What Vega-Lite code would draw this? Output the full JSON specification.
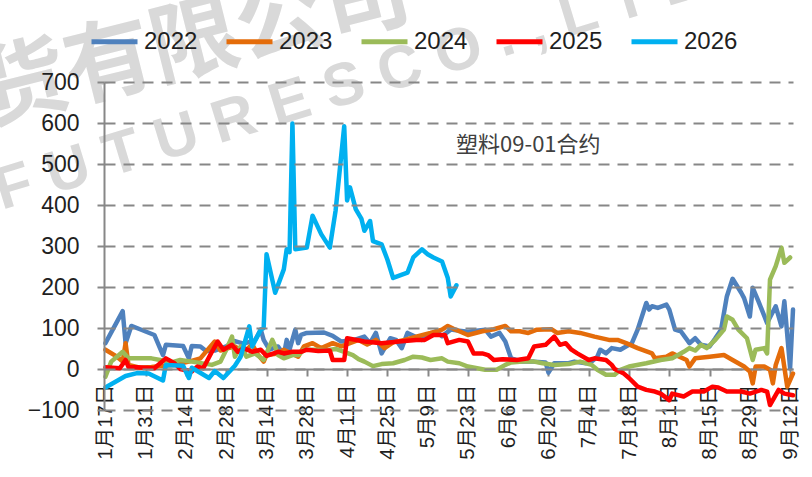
{
  "$schema": "https://vega.github.io/schema/vega-lite/v6.json",
  "width": 689,
  "height": 328,
  "autosize": {"type": "none"},
  "padding": {"left": 104, "top": 82, "right": 19, "bottom": 67},
  "background": "#ffffff",
  "config": {
    "view": {"stroke": null},
    "font": "Liberation Sans, Noto Sans CJK SC"
  },
  "encoding": {
    "x": {
      "field": "d", "type": "temporal",
      "scale": {"domain": [{"year": 2022, "month": 1, "date": 16, "hours": 12}, {"year": 2022, "month": 9, "date": 13}]},
      "axis": {
        "title": null, "orient": "bottom", "offset": -41,
        "values": [
          {"year": 2022, "month": 1, "date": 17}, {"year": 2022, "month": 1, "date": 31},
          {"year": 2022, "month": 2, "date": 14}, {"year": 2022, "month": 2, "date": 28},
          {"year": 2022, "month": 3, "date": 14}, {"year": 2022, "month": 3, "date": 28},
          {"year": 2022, "month": 4, "date": 11}, {"year": 2022, "month": 4, "date": 25},
          {"year": 2022, "month": 5, "date": 9}, {"year": 2022, "month": 5, "date": 23},
          {"year": 2022, "month": 6, "date": 6}, {"year": 2022, "month": 6, "date": 20},
          {"year": 2022, "month": 7, "date": 4}, {"year": 2022, "month": 7, "date": 18},
          {"year": 2022, "month": 8, "date": 1}, {"year": 2022, "month": 8, "date": 15},
          {"year": 2022, "month": 8, "date": 29}, {"year": 2022, "month": 9, "date": 12}
        ],
        "format": "%-m月%-d日",
        "labelAngle": 270, "labelFontSize": 20.5, "labelColor": "#1f1f1f",
        "labelPadding": 8, "labelFlush": false, "labelOverlap": false,
        "tickSize": 7, "tickWidth": 2, "tickColor": "#878787",
        "domainColor": "#878787", "domainWidth": 2, "grid": false
      }
    },
    "y": {
      "field": "v", "type": "quantitative",
      "scale": {"domain": [-100, 700], "nice": false, "zero": false},
      "axis": {
        "title": null, "zindex": 1,
        "values": [-100, 0, 100, 200, 300, 400, 500, 600, 700],
        "labelFontSize": 23, "labelColor": "#1f1f1f", "labelPadding": 18,
        "tickSize": 7, "tickWidth": 2, "tickColor": "#878787",
        "domainColor": "#878787", "domainWidth": 2,
        "grid": true, "gridColor": "#878787", "gridWidth": 2, "gridDash": [11, 8]
      }
    }
  },
  "layer": [
    {
      "data": {"values": [
        {"d": "2021/12/05", "v": 662, "t": "货有限公司"}
      ]},
      "mark": {"type": "text", "fontSize": 88, "fontWeight": "bold", "font": "Noto Sans CJK SC", "color": "#d9d9d9", "angle": 346, "align": "left", "baseline": "middle"},
      "encoding": {"text": {"field": "t"}}
    },
    {
      "data": {"values": [
        {"d": "2021/12/12", "v": 388, "t": "F U T U R E S   C O . , L T D"}
      ]},
      "mark": {"type": "text", "fontSize": 60, "fontWeight": "bold", "font": "Liberation Sans", "color": "#d9d9d9", "angle": 343, "align": "left", "baseline": "alphabetic"},
      "encoding": {"text": {"field": "t"}}
    },
    {
      "data": {"values": [
        {"s":"2022","d":"2022/01/17","v":63},{"s":"2022","d":"2022/01/23","v":141},{"s":"2022","d":"2022/01/24","v":63},{"s":"2022","d":"2022/01/26","v":105},{"s":"2022","d":"2022/01/29","v":97},{"s":"2022","d":"2022/02/03","v":83},{"s":"2022","d":"2022/02/06","v":34},{"s":"2022","d":"2022/02/07","v":59},{"s":"2022","d":"2022/02/13","v":56},{"s":"2022","d":"2022/02/15","v":26},{"s":"2022","d":"2022/02/16","v":56},{"s":"2022","d":"2022/02/19","v":55},{"s":"2022","d":"2022/02/21","v":44},{"s":"2022","d":"2022/02/24","v":45},{"s":"2022","d":"2022/02/28","v":55},{"s":"2022","d":"2022/03/03","v":68},{"s":"2022","d":"2022/03/06","v":62},{"s":"2022","d":"2022/03/10","v":70},{"s":"2022","d":"2022/03/12","v":96},{"s":"2022","d":"2022/03/13","v":71},{"s":"2022","d":"2022/03/15","v":47},{"s":"2022","d":"2022/03/18","v":55},{"s":"2022","d":"2022/03/20","v":34},{"s":"2022","d":"2022/03/21","v":71},{"s":"2022","d":"2022/03/22","v":47},{"s":"2022","d":"2022/03/24","v":96},{"s":"2022","d":"2022/03/25","v":63},{"s":"2022","d":"2022/03/26","v":83},{"s":"2022","d":"2022/03/28","v":88},{"s":"2022","d":"2022/04/03","v":89},{"s":"2022","d":"2022/04/06","v":81},{"s":"2022","d":"2022/04/09","v":67},{"s":"2022","d":"2022/04/13","v":70},{"s":"2022","d":"2022/04/17","v":79},{"s":"2022","d":"2022/04/19","v":63},{"s":"2022","d":"2022/04/21","v":88},{"s":"2022","d":"2022/04/23","v":38},{"s":"2022","d":"2022/04/26","v":75},{"s":"2022","d":"2022/04/28","v":71},{"s":"2022","d":"2022/04/30","v":51},{"s":"2022","d":"2022/05/02","v":88},{"s":"2022","d":"2022/05/07","v":71},{"s":"2022","d":"2022/05/12","v":92},{"s":"2022","d":"2022/05/14","v":80},{"s":"2022","d":"2022/05/17","v":96},{"s":"2022","d":"2022/05/23","v":91},{"s":"2022","d":"2022/05/29","v":96},{"s":"2022","d":"2022/05/31","v":79},{"s":"2022","d":"2022/06/03","v":88},{"s":"2022","d":"2022/06/05","v":67},{"s":"2022","d":"2022/06/07","v":26},{"s":"2022","d":"2022/06/11","v":18},{"s":"2022","d":"2022/06/15","v":18},{"s":"2022","d":"2022/06/19","v":16},{"s":"2022","d":"2022/06/20","v":-9},{"s":"2022","d":"2022/06/22","v":14},{"s":"2022","d":"2022/06/27","v":14},{"s":"2022","d":"2022/06/29","v":18},{"s":"2022","d":"2022/07/03","v":14},{"s":"2022","d":"2022/07/05","v":18},{"s":"2022","d":"2022/07/07","v":30},{"s":"2022","d":"2022/07/08","v":47},{"s":"2022","d":"2022/07/10","v":38},{"s":"2022","d":"2022/07/12","v":51},{"s":"2022","d":"2022/07/15","v":47},{"s":"2022","d":"2022/07/19","v":63},{"s":"2022","d":"2022/07/21","v":96},{"s":"2022","d":"2022/07/24","v":161},{"s":"2022","d":"2022/07/25","v":145},{"s":"2022","d":"2022/07/26","v":153},{"s":"2022","d":"2022/07/28","v":149},{"s":"2022","d":"2022/07/31","v":157},{"s":"2022","d":"2022/08/01","v":145},{"s":"2022","d":"2022/08/03","v":96},{"s":"2022","d":"2022/08/05","v":92},{"s":"2022","d":"2022/08/08","v":63},{"s":"2022","d":"2022/08/10","v":75},{"s":"2022","d":"2022/08/12","v":59},{"s":"2022","d":"2022/08/15","v":55},{"s":"2022","d":"2022/08/17","v":75},{"s":"2022","d":"2022/08/19","v":96},{"s":"2022","d":"2022/08/21","v":177},{"s":"2022","d":"2022/08/23","v":220},{"s":"2022","d":"2022/08/26","v":186},{"s":"2022","d":"2022/08/27","v":173},{"s":"2022","d":"2022/08/29","v":128},{"s":"2022","d":"2022/08/30","v":198},{"s":"2022","d":"2022/09/01","v":165},{"s":"2022","d":"2022/09/04","v":112},{"s":"2022","d":"2022/09/07","v":153},{"s":"2022","d":"2022/09/09","v":104},{"s":"2022","d":"2022/09/10","v":165},{"s":"2022","d":"2022/09/12","v":2},{"s":"2022","d":"2022/09/13","v":145},
        {"s":"2023","d":"2022/01/17","v":47},{"s":"2023","d":"2022/01/21","v":30},{"s":"2023","d":"2022/01/23","v":18},{"s":"2023","d":"2022/01/24","v":63},{"s":"2023","d":"2022/01/25","v":10},{"s":"2023","d":"2022/01/29","v":3},{"s":"2023","d":"2022/02/02","v":5},{"s":"2023","d":"2022/02/06","v":8},{"s":"2023","d":"2022/02/10","v":10},{"s":"2023","d":"2022/02/15","v":18},{"s":"2023","d":"2022/02/19","v":26},{"s":"2023","d":"2022/02/22","v":51},{"s":"2023","d":"2022/02/24","v":67},{"s":"2023","d":"2022/02/26","v":45},{"s":"2023","d":"2022/02/28","v":50},{"s":"2023","d":"2022/03/03","v":55},{"s":"2023","d":"2022/03/06","v":40},{"s":"2023","d":"2022/03/09","v":60},{"s":"2023","d":"2022/03/11","v":35},{"s":"2023","d":"2022/03/13","v":18},{"s":"2023","d":"2022/03/14","v":34},{"s":"2023","d":"2022/03/18","v":38},{"s":"2023","d":"2022/03/20","v":47},{"s":"2023","d":"2022/03/25","v":30},{"s":"2023","d":"2022/03/27","v":55},{"s":"2023","d":"2022/03/30","v":63},{"s":"2023","d":"2022/04/02","v":51},{"s":"2023","d":"2022/04/06","v":63},{"s":"2023","d":"2022/04/09","v":55},{"s":"2023","d":"2022/04/15","v":71},{"s":"2023","d":"2022/04/18","v":60},{"s":"2023","d":"2022/04/21","v":71},{"s":"2023","d":"2022/04/24","v":51},{"s":"2023","d":"2022/04/27","v":65},{"s":"2023","d":"2022/05/01","v":71},{"s":"2023","d":"2022/05/05","v":79},{"s":"2023","d":"2022/05/10","v":88},{"s":"2023","d":"2022/05/14","v":96},{"s":"2023","d":"2022/05/16","v":105},{"s":"2023","d":"2022/05/18","v":98},{"s":"2023","d":"2022/05/20","v":92},{"s":"2023","d":"2022/05/23","v":83},{"s":"2023","d":"2022/05/28","v":92},{"s":"2023","d":"2022/06/01","v":97},{"s":"2023","d":"2022/06/05","v":105},{"s":"2023","d":"2022/06/07","v":92},{"s":"2023","d":"2022/06/10","v":92},{"s":"2023","d":"2022/06/13","v":88},{"s":"2023","d":"2022/06/16","v":96},{"s":"2023","d":"2022/06/21","v":97},{"s":"2023","d":"2022/06/23","v":88},{"s":"2023","d":"2022/06/27","v":92},{"s":"2023","d":"2022/07/01","v":88},{"s":"2023","d":"2022/07/06","v":79},{"s":"2023","d":"2022/07/11","v":71},{"s":"2023","d":"2022/07/14","v":71},{"s":"2023","d":"2022/07/17","v":63},{"s":"2023","d":"2022/07/21","v":51},{"s":"2023","d":"2022/07/26","v":38},{"s":"2023","d":"2022/07/27","v":26},{"s":"2023","d":"2022/07/31","v":30},{"s":"2023","d":"2022/08/02","v":38},{"s":"2023","d":"2022/08/07","v":22},{"s":"2023","d":"2022/08/08","v":6},{"s":"2023","d":"2022/08/10","v":26},{"s":"2023","d":"2022/08/15","v":30},{"s":"2023","d":"2022/08/20","v":34},{"s":"2023","d":"2022/08/23","v":22},{"s":"2023","d":"2022/08/27","v":6},{"s":"2023","d":"2022/08/29","v":-6},{"s":"2023","d":"2022/08/30","v":-35},{"s":"2023","d":"2022/08/31","v":6},{"s":"2023","d":"2022/09/03","v":6},{"s":"2023","d":"2022/09/05","v":-2},{"s":"2023","d":"2022/09/06","v":-35},{"s":"2023","d":"2022/09/07","v":10},{"s":"2023","d":"2022/09/09","v":51},{"s":"2023","d":"2022/09/11","v":-43},{"s":"2023","d":"2022/09/12","v":-27},{"s":"2023","d":"2022/09/13","v":-11},
        {"s":"2024","d":"2022/01/17","v":-19},{"s":"2024","d":"2022/01/19","v":18},{"s":"2024","d":"2022/01/23","v":42},{"s":"2024","d":"2022/01/25","v":26},{"s":"2024","d":"2022/02/02","v":26},{"s":"2024","d":"2022/02/05","v":22},{"s":"2024","d":"2022/02/09","v":16},{"s":"2024","d":"2022/02/12","v":22},{"s":"2024","d":"2022/02/16","v":18},{"s":"2024","d":"2022/02/23","v":10},{"s":"2024","d":"2022/02/26","v":18},{"s":"2024","d":"2022/02/28","v":47},{"s":"2024","d":"2022/03/02","v":79},{"s":"2024","d":"2022/03/03","v":30},{"s":"2024","d":"2022/03/05","v":55},{"s":"2024","d":"2022/03/07","v":30},{"s":"2024","d":"2022/03/10","v":38},{"s":"2024","d":"2022/03/13","v":22},{"s":"2024","d":"2022/03/16","v":71},{"s":"2024","d":"2022/03/17","v":55},{"s":"2024","d":"2022/03/18","v":34},{"s":"2024","d":"2022/03/20","v":26},{"s":"2024","d":"2022/03/23","v":34},{"s":"2024","d":"2022/03/25","v":34},{"s":"2024","d":"2022/03/27","v":47},{"s":"2024","d":"2022/03/31","v":47},{"s":"2024","d":"2022/04/04","v":46},{"s":"2024","d":"2022/04/07","v":49},{"s":"2024","d":"2022/04/10","v":42},{"s":"2024","d":"2022/04/13","v":34},{"s":"2024","d":"2022/04/15","v":24},{"s":"2024","d":"2022/04/17","v":18},{"s":"2024","d":"2022/04/20","v":7},{"s":"2024","d":"2022/04/23","v":12},{"s":"2024","d":"2022/04/27","v":14},{"s":"2024","d":"2022/05/01","v":22},{"s":"2024","d":"2022/05/04","v":30},{"s":"2024","d":"2022/05/07","v":28},{"s":"2024","d":"2022/05/10","v":22},{"s":"2024","d":"2022/05/14","v":26},{"s":"2024","d":"2022/05/16","v":18},{"s":"2024","d":"2022/05/20","v":14},{"s":"2024","d":"2022/05/23","v":6},{"s":"2024","d":"2022/05/29","v":-2},{"s":"2024","d":"2022/06/02","v":-2},{"s":"2024","d":"2022/06/05","v":10},{"s":"2024","d":"2022/06/07","v":16},{"s":"2024","d":"2022/06/11","v":18},{"s":"2024","d":"2022/06/15","v":18},{"s":"2024","d":"2022/06/18","v":14},{"s":"2024","d":"2022/06/22","v":10},{"s":"2024","d":"2022/06/27","v":12},{"s":"2024","d":"2022/07/01","v":18},{"s":"2024","d":"2022/07/05","v":10},{"s":"2024","d":"2022/07/07","v":-2},{"s":"2024","d":"2022/07/10","v":-14},{"s":"2024","d":"2022/07/13","v":-14},{"s":"2024","d":"2022/07/15","v":-2},{"s":"2024","d":"2022/07/18","v":6},{"s":"2024","d":"2022/07/24","v":14},{"s":"2024","d":"2022/07/29","v":22},{"s":"2024","d":"2022/08/02","v":26},{"s":"2024","d":"2022/08/06","v":42},{"s":"2024","d":"2022/08/08","v":51},{"s":"2024","d":"2022/08/10","v":45},{"s":"2024","d":"2022/08/12","v":59},{"s":"2024","d":"2022/08/14","v":51},{"s":"2024","d":"2022/08/17","v":71},{"s":"2024","d":"2022/08/20","v":96},{"s":"2024","d":"2022/08/21","v":128},{"s":"2024","d":"2022/08/23","v":120},{"s":"2024","d":"2022/08/25","v":96},{"s":"2024","d":"2022/08/28","v":75},{"s":"2024","d":"2022/08/30","v":22},{"s":"2024","d":"2022/08/31","v":47},{"s":"2024","d":"2022/09/03","v":51},{"s":"2024","d":"2022/09/04","v":38},{"s":"2024","d":"2022/09/05","v":218},{"s":"2024","d":"2022/09/07","v":251},{"s":"2024","d":"2022/09/09","v":296},{"s":"2024","d":"2022/09/10","v":259},{"s":"2024","d":"2022/09/12","v":272},
        {"s":"2025","d":"2022/01/17","v":4},{"s":"2025","d":"2022/01/22","v":2},{"s":"2025","d":"2022/01/24","v":22},{"s":"2025","d":"2022/01/25","v":5},{"s":"2025","d":"2022/01/28","v":4},{"s":"2025","d":"2022/02/03","v":2},{"s":"2025","d":"2022/02/07","v":26},{"s":"2025","d":"2022/02/10","v":14},{"s":"2025","d":"2022/02/12","v":0},{"s":"2025","d":"2022/02/16","v":-6},{"s":"2025","d":"2022/02/18","v":6},{"s":"2025","d":"2022/02/20","v":2},{"s":"2025","d":"2022/02/23","v":42},{"s":"2025","d":"2022/02/25","v":67},{"s":"2025","d":"2022/02/27","v":47},{"s":"2025","d":"2022/03/02","v":59},{"s":"2025","d":"2022/03/04","v":42},{"s":"2025","d":"2022/03/06","v":51},{"s":"2025","d":"2022/03/09","v":42},{"s":"2025","d":"2022/03/12","v":47},{"s":"2025","d":"2022/03/14","v":32},{"s":"2025","d":"2022/03/18","v":42},{"s":"2025","d":"2022/03/20","v":38},{"s":"2025","d":"2022/03/23","v":42},{"s":"2025","d":"2022/03/26","v":42},{"s":"2025","d":"2022/03/28","v":47},{"s":"2025","d":"2022/04/01","v":44},{"s":"2025","d":"2022/04/05","v":45},{"s":"2025","d":"2022/04/06","v":22},{"s":"2025","d":"2022/04/10","v":22},{"s":"2025","d":"2022/04/11","v":75},{"s":"2025","d":"2022/04/17","v":67},{"s":"2025","d":"2022/04/23","v":63},{"s":"2025","d":"2022/04/29","v":67},{"s":"2025","d":"2022/05/05","v":71},{"s":"2025","d":"2022/05/08","v":71},{"s":"2025","d":"2022/05/11","v":83},{"s":"2025","d":"2022/05/15","v":83},{"s":"2025","d":"2022/05/16","v":63},{"s":"2025","d":"2022/05/20","v":71},{"s":"2025","d":"2022/05/23","v":67},{"s":"2025","d":"2022/05/25","v":38},{"s":"2025","d":"2022/05/28","v":38},{"s":"2025","d":"2022/05/30","v":34},{"s":"2025","d":"2022/06/01","v":22},{"s":"2025","d":"2022/06/04","v":24},{"s":"2025","d":"2022/06/09","v":22},{"s":"2025","d":"2022/06/13","v":26},{"s":"2025","d":"2022/06/15","v":55},{"s":"2025","d":"2022/06/19","v":59},{"s":"2025","d":"2022/06/22","v":79},{"s":"2025","d":"2022/06/24","v":59},{"s":"2025","d":"2022/06/26","v":63},{"s":"2025","d":"2022/06/28","v":47},{"s":"2025","d":"2022/06/30","v":38},{"s":"2025","d":"2022/07/04","v":22},{"s":"2025","d":"2022/07/06","v":26},{"s":"2025","d":"2022/07/10","v":22},{"s":"2025","d":"2022/07/12","v":10},{"s":"2025","d":"2022/07/13","v":0},{"s":"2025","d":"2022/07/16","v":-10},{"s":"2025","d":"2022/07/18","v":-22},{"s":"2025","d":"2022/07/21","v":-43},{"s":"2025","d":"2022/07/24","v":-51},{"s":"2025","d":"2022/07/27","v":-55},{"s":"2025","d":"2022/07/29","v":-60},{"s":"2025","d":"2022/08/01","v":-76},{"s":"2025","d":"2022/08/02","v":-60},{"s":"2025","d":"2022/08/06","v":-67},{"s":"2025","d":"2022/08/09","v":-55},{"s":"2025","d":"2022/08/13","v":-55},{"s":"2025","d":"2022/08/16","v":-43},{"s":"2025","d":"2022/08/18","v":-45},{"s":"2025","d":"2022/08/21","v":-55},{"s":"2025","d":"2022/08/26","v":-55},{"s":"2025","d":"2022/08/29","v":-60},{"s":"2025","d":"2022/09/02","v":-51},{"s":"2025","d":"2022/09/04","v":-55},{"s":"2025","d":"2022/09/05","v":-88},{"s":"2025","d":"2022/09/08","v":-51},{"s":"2025","d":"2022/09/10","v":-60},{"s":"2025","d":"2022/09/13","v":-64},
        {"s":"2026","d":"2022/01/17","v":-45},{"s":"2026","d":"2022/01/24","v":-17},{"s":"2026","d":"2022/01/28","v":-10},{"s":"2026","d":"2022/02/01","v":-11},{"s":"2026","d":"2022/02/06","v":-28},{"s":"2026","d":"2022/02/07","v":10},{"s":"2026","d":"2022/02/13","v":8},{"s":"2026","d":"2022/02/15","v":-22},{"s":"2026","d":"2022/02/16","v":3},{"s":"2026","d":"2022/02/22","v":-22},{"s":"2026","d":"2022/02/24","v":-5},{"s":"2026","d":"2022/02/27","v":-22},{"s":"2026","d":"2022/03/03","v":8},{"s":"2026","d":"2022/03/05","v":30},{"s":"2026","d":"2022/03/08","v":104},{"s":"2026","d":"2022/03/09","v":55},{"s":"2026","d":"2022/03/12","v":96},{"s":"2026","d":"2022/03/13","v":100},{"s":"2026","d":"2022/03/14","v":280},{"s":"2026","d":"2022/03/17","v":186},{"s":"2026","d":"2022/03/20","v":243},{"s":"2026","d":"2022/03/21","v":292},{"s":"2026","d":"2022/03/22","v":285},{"s":"2026","d":"2022/03/23","v":599},{"s":"2026","d":"2022/03/24","v":292},{"s":"2026","d":"2022/03/28","v":296},{"s":"2026","d":"2022/03/30","v":374},{"s":"2026","d":"2022/04/02","v":329},{"s":"2026","d":"2022/04/05","v":296},{"s":"2026","d":"2022/04/07","v":386},{"s":"2026","d":"2022/04/10","v":592},{"s":"2026","d":"2022/04/11","v":411},{"s":"2026","d":"2022/04/12","v":443},{"s":"2026","d":"2022/04/14","v":390},{"s":"2026","d":"2022/04/16","v":366},{"s":"2026","d":"2022/04/17","v":337},{"s":"2026","d":"2022/04/19","v":361},{"s":"2026","d":"2022/04/20","v":312},{"s":"2026","d":"2022/04/23","v":304},{"s":"2026","d":"2022/04/25","v":267},{"s":"2026","d":"2022/04/27","v":222},{"s":"2026","d":"2022/05/02","v":235},{"s":"2026","d":"2022/05/04","v":272},{"s":"2026","d":"2022/05/07","v":292},{"s":"2026","d":"2022/05/09","v":280},{"s":"2026","d":"2022/05/11","v":272},{"s":"2026","d":"2022/05/14","v":262},{"s":"2026","d":"2022/05/16","v":222},{"s":"2026","d":"2022/05/17","v":177},{"s":"2026","d":"2022/05/19","v":204}
      ]},
      "mark": {"type": "line", "strokeWidth": 4.5, "strokeJoin": "round", "strokeCap": "round"},
      "encoding": {
        "color": {
          "field": "s", "type": "nominal",
          "scale": {"domain": ["2022", "2023", "2024", "2025", "2026"], "range": ["#4F81BD", "#E46C0A", "#9BBB59", "#FF0000", "#00B0F0"]},
          "legend": {
            "title": null, "orient": "none", "direction": "horizontal",
            "legendX": -15, "legendY": -66,
            "symbolType": "stroke", "symbolSize": 2116, "symbolStrokeWidth": 5,
            "labelFontSize": 24, "labelColor": "#1f1f1f", "labelOffset": 4,
            "columnPadding": 18, "labelFont": "Liberation Sans"
          }
        }
      }
    },
    {
      "data": {"values": [
        {"d": "2022/06/13", "v": 547, "t": "塑料09-01合约"}
      ]},
      "mark": {"type": "text", "fontSize": 22, "font": "Noto Sans CJK SC", "color": "#404040", "align": "center", "baseline": "middle"},
      "encoding": {"text": {"field": "t"}}
    }
  ]
}
